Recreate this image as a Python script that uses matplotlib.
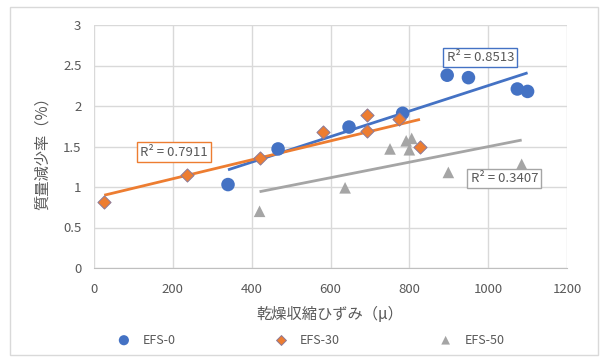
import matplotlib.pyplot as plt
import numpy as np
from matplotlib.patches import Rectangle

plt.rcParams['font.family'] = ['Noto Sans CJK JP', 'DejaVu Sans']

# データ
efs0_x = [340, 467, 647, 783, 896, 950, 1074, 1100]
efs0_y = [1.03, 1.47, 1.74, 1.91, 2.38, 2.35, 2.21, 2.18]
efs30_x = [26, 235, 420, 582, 692, 692, 775, 827]
efs30_y = [0.81, 1.15, 1.36, 1.68, 1.89, 1.69, 1.84, 1.49]
efs50_x = [420, 637, 751, 792, 806, 800, 899, 1085]
efs50_y = [0.70, 0.99, 1.47, 1.57, 1.60, 1.46, 1.18, 1.28]
series_names = ['EFS-0', 'EFS-30', 'EFS-50']
r2_labels = ['R² = 0.8513', 'R² = 0.7911', 'R² = 0.3407']

x_ticks = [0, 200, 400, 600, 800, 1000, 1200]
y_ticks = [0, 0.5, 1, 1.5, 2, 2.5, 3]

colors = ['#4472C4', '#ED7D31', '#A5A5A5']
text_col = '#595959'

fig = plt.figure(figsize=(6.03, 3.59), dpi=100)
ax = fig.add_axes([94 / 603, 1 - 268 / 359, 473 / 603, 243 / 359])

# 外枠
fig.patches.append(Rectangle((10 / 603, 4 / 359), 588 / 603, 348 / 359,
                             transform=fig.transFigure, fill=False,
                             edgecolor='#D9D9D9', lw=1))

data = [(efs0_x, efs0_y), (efs30_x, efs30_y), (efs50_x, efs50_y)]
markers = [dict(marker='o', s=95, edgecolors='none'),
           dict(marker='D', s=45, edgecolors='#8c7a99', linewidths=0.7),
           dict(marker='^', s=70, edgecolors='none')]

for (xs, ys), name, c, mk in zip(data, series_names, colors, markers):
    ax.scatter(xs, ys, color=c, label=name, zorder=3, **mk)

# 近似直線
for (xs, ys), c in zip(data, colors):
    a, b = np.polyfit(xs, ys, 1)
    xx = np.array([min(xs), max(xs)])
    ax.plot(xx, a * xx + b, color=c, lw=2, zorder=2, solid_capstyle='butt')

# R² ラベル
label_pos = [(980, 2.60), (202, 1.43), (1041, 1.105)]
for (lx, ly), txt, c in zip(label_pos, r2_labels, colors):
    ax.text(lx, ly, txt, ha='center', va='center', fontsize=9.5, color=text_col,
            zorder=4, bbox=dict(boxstyle='square,pad=0.25', fc='white', ec=c, lw=1))

ax.set_xlim(0, 1200)
ax.set_ylim(0, 3)
ax.set_xticks(x_ticks)
ax.set_yticks(y_ticks)
ax.set_yticklabels([f'{v:g}' for v in y_ticks])
ax.grid(True, color='#D9D9D9', lw=1)
ax.set_axisbelow(True)
for s in ['top', 'right', 'left']:
    ax.spines[s].set_visible(False)
ax.spines['bottom'].set_color('#BFBFBF')
ax.tick_params(length=0, labelsize=9.5, labelcolor=text_col)
ax.tick_params(axis='x', pad=11)
ax.tick_params(axis='y', pad=9)

fig.text(330 / 603, 1 - 314 / 359, '乾燥収縮ひずみ（μ）', ha='center', va='center',
         fontsize=11, color=text_col)
fig.text(42 / 603, 1 - 150 / 359, '質量減少率（%）', ha='center', va='center',
         rotation=90, fontsize=11, color=text_col)

fig.legend(loc='center', bbox_to_anchor=(311 / 603, 1 - 340 / 359), ncol=3,
           frameon=False, fontsize=9, labelcolor=text_col, handlelength=1,
           handletextpad=1.0, columnspacing=7.95, scatterpoints=1,
           markerscale=0.75)

fig.savefig('out.png', dpi=100)
